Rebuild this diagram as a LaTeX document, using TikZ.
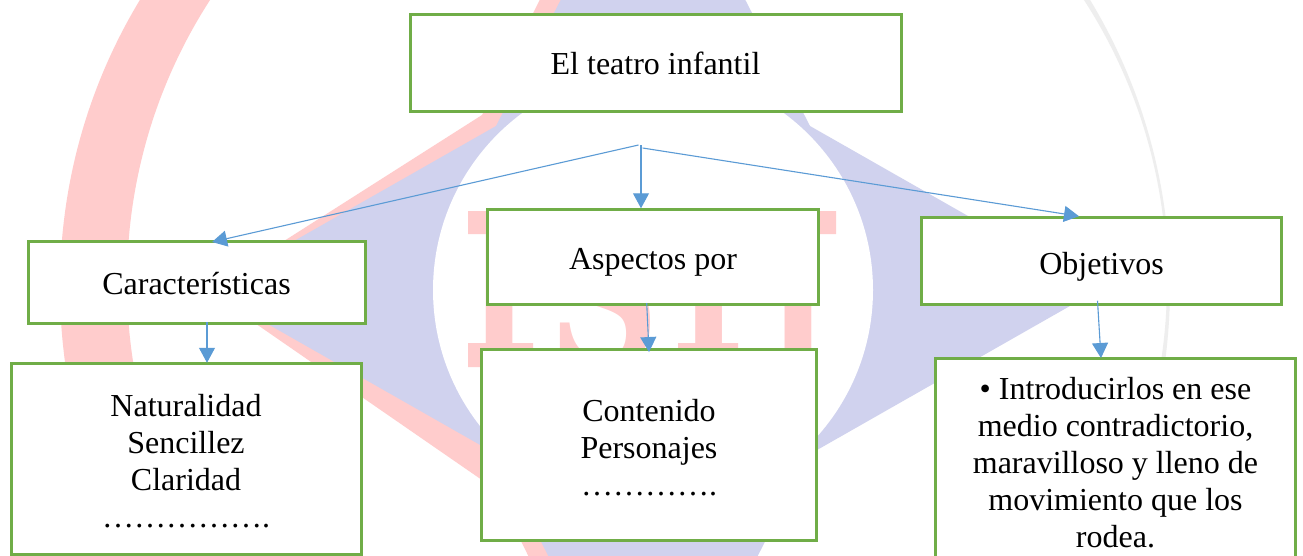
\documentclass[tikz,border=0pt]{standalone}
\usepackage{fontspec}
\setmainfont{Liberation Serif}
\newfontfamily\wmfont[BoldFont={DejaVu Serif Bold}]{DejaVu Serif}
\usetikzlibrary{arrows.meta,calc}
\definecolor{boxgreen}{HTML}{70AD47}
\definecolor{arrowblue}{HTML}{5B9BD5}
\definecolor{wmred}{HTML}{FFCCCC}
\definecolor{wmblue}{HTML}{D0D2EE}
\definecolor{wmgray}{HTML}{EEEEEE}
\newcommand{\linetext}[2]{\raisebox{#1}[0pt][0pt]{#2}}
\newcommand{\boxtext}[2]{\raisebox{#1}[0pt][0pt]{\begin{minipage}[t]{325pt}\centering\baselineskip=37pt #2\end{minipage}}}
\tikzset{
  box/.style={draw=boxgreen,line width=3pt,fill=white,inner sep=0pt,outer sep=0pt,font=\fontsize{32pt}{37pt}\selectfont},
  link/.style={draw=arrowblue,line width=1.1pt,-{Triangle[length=15pt,width=16pt]}},
  wmletter/.style={text=wmred,inner sep=0pt,anchor=base,font=\wmfont\bfseries\fontsize{214pt}{214pt}\selectfont}
}
\begin{document}
\begin{tikzpicture}[x=1pt,y=-1pt]
\clip (0,0) rectangle (1303,555);
\fill[white] (0,0) rectangle (1303,555);
% watermark ring
\begin{scope}
  \clip (0,-10) rectangle (620,565);
  \fill[wmred,even odd rule] (615,287) circle[radius=555pt] (647,282) circle[radius=520pt];
\end{scope}
\begin{scope}
  \clip (620,-10) rectangle (1303,565);
  \fill[wmgray,even odd rule] (615,287) circle[radius=555pt] (647,282) circle[radius=520pt];
\end{scope}
% watermark star
\fill[wmred] (207,290) -- (482,115) -- (620,-160) -- (653,290) -- (620,740) -- (495,489) -- cycle;
\fill[wmblue] (653,-180) -- (810,126) -- (1098,290) -- (810,454) -- (653,760) -- (496,454) -- (208,290) -- (496,126) -- cycle;
\fill[white] (653,290) circle[radius=220pt];
% watermark letters
\node[wmletter,xscale=.66] at (500,367) {I};
\node[wmletter,xscale=.72] at (604,367) {S};
\node[wmletter,xscale=.66] at (709,367) {T};
\node[wmletter,xscale=.66] at (797,367) {J};
\fill[wmred] (468,211) rectangle (533,234) (468,343) rectangle (533,367) (678,343) rectangle (738,367) (772,211) rectangle (836,234);
% boxes
\node[box,minimum width=491pt,minimum height=97pt] (top) at (655.5,62.5) {\linetext{-12pt}{El teatro infantil}};
\node[box,minimum width=337pt,minimum height=82pt] (car) at (196.5,282) {\linetext{-12pt}{Características}};
\node[box,minimum width=350pt,minimum height=190.5pt] (nat) at (186,459) {\boxtext{43pt}{Naturalidad\\Sencillez\\Claridad\\…………….}};
\node[box,minimum width=331.5pt,minimum height=95.5pt] (asp) at (653,257) {\linetext{-12.7pt}{Aspectos por}};
\node[box,minimum width=335.5pt,minimum height=191.5pt] (con) at (649,445) {\boxtext{24pt}{Contenido\\Personajes\\………….}};
\node[box,minimum width=360pt,minimum height=87.5pt] (obj) at (1101.5,261) {\linetext{-13.5pt}{Objetivos}};
\node[box,minimum width=360pt,minimum height=217pt] (int) at (1115.5,466.5) {\boxtext{67.5pt}{• Introducirlos en ese\\medio contradictorio,\\maravilloso y lleno de\\movimiento que los\\rodea.}};
% connector hubs
\coordinate (hubl) at (638.5,145);
\coordinate (hubm) at (641,145);
\coordinate (hubr) at (642.6,148);
\draw[link] (hubl) -- ([xshift=15.5pt,yshift=-1pt]car.north);
\draw[link] (hubm) -- ([xshift=-12pt,yshift=1pt]asp.north);
\draw[link] (hubr) -- ([xshift=-22.5pt,yshift=1pt]obj.north);
\draw[link] ([xshift=10.5pt,yshift=1pt]car.south) -- ([xshift=21pt,yshift=1pt]nat.north);
\draw[link] ([xshift=-6.3pt,yshift=1.7pt]asp.south) -- ([xshift=0pt,yshift=-2.8pt]con.north);
\draw[link] ([xshift=-4pt,yshift=4pt]obj.south) -- ([xshift=-14.5pt,yshift=0pt]int.north);
\end{tikzpicture}
\end{document}
